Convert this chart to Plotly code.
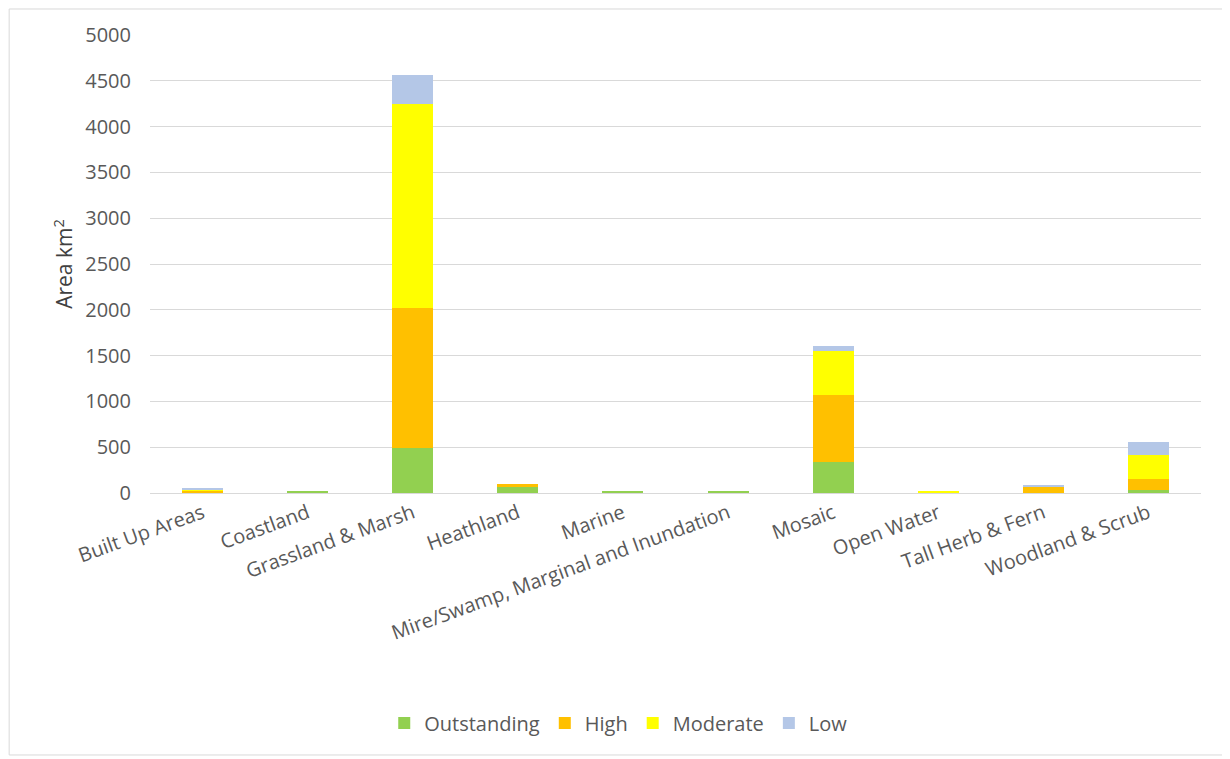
import plotly.graph_objects as go

categories = ["Built Up Areas", "Coastland", "Grassland & Marsh", "Heathland", "Marine",
              "Mire/Swamp, Marginal and Inundation", "Mosaic", "Open Water",
              "Tall Herb & Fern", "Woodland & Scrub"]
outstanding = [5, 12, 490, 70, 11, 12, 340, 0, 5, 30]
high = [20, 0, 1530, 28, 0, 0, 730, 0, 65, 125]
moderate = [15, 0, 2230, 0, 0, 0, 480, 15, 0, 265]
low = [15, 0, 310, 0, 0, 0, 50, 0, 15, 140]

series = [("Outstanding", outstanding, "#92d050"), ("High", high, "#ffc000"),
          ("Moderate", moderate, "#ffff00"), ("Low", low, "#b4c7e7")]

fig = go.Figure()
for name, vals, col in series:
    fig.add_trace(go.Bar(x=categories, y=vals, name=name, marker_color=col,
                         marker_line_width=0))

font = "Open Sans, Liberation Sans, sans-serif"
fig.update_layout(
    barmode="stack", bargap=0.61,
    width=1222, height=751,
    paper_bgcolor="white", plot_bgcolor="white",
    margin=dict(l=142, r=29, t=27, b=266, autoexpand=False),
    font=dict(family=font, size=20, color="#595959"),
    legend=dict(orientation="h", x=0.446, xanchor="center", y=-0.502, yanchor="middle",
                font=dict(size=20, color="#595959"), traceorder="normal",
                itemwidth=30, tracegroupgap=0),
    xaxis=dict(tickangle=-20, showline=True, linecolor="#d9d9d9", linewidth=1,
               automargin=False, tickfont=dict(size=20, color="#595959")),
    yaxis=dict(range=[0, 5000], dtick=500, showgrid=True, gridcolor="#d9d9d9",
               zeroline=False, automargin=False, tickfont=dict(size=20, color="#595959"),
               ticks="outside", ticklen=14, tickcolor="white",
               title=dict(text="Area km<sup>2</sup>", font=dict(size=21, color="#404040"),
                          standoff=6)),
    shapes=[dict(type="rect", xref="paper", yref="paper", x0=-0.134, x1=1.0228,
                 y0=-0.572, y1=1.0568, line=dict(color="#d9d9d9", width=1))],
)
fig.write_html("out.html")
